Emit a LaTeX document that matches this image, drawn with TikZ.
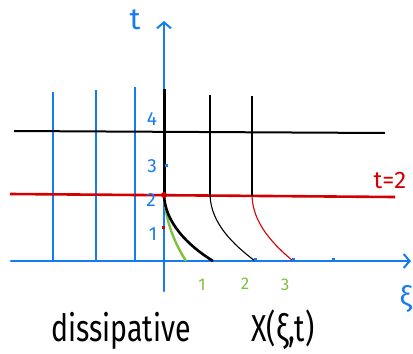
\documentclass[tikz,border=0pt]{standalone}
\usepackage{fontspec}
\usepackage{graphicx}
\setmainfont{Fira Sans}
\usetikzlibrary{arrows.meta}
\definecolor{axblue}{RGB}{22,122,240}
\definecolor{hred}{RGB}{210,0,0}
\definecolor{hgreen}{RGB}{128,192,64}
\tikzset{
  axis/.style={axblue,line width=2.8pt,line cap=round,-{Straight Barb[length=6pt,width=14pt,line width=2pt]}},
  bluev/.style={axblue,line width=2.8pt},
  blackh/.style={black,line width=2pt},
  thickblack/.style={black,line width=3pt},
  thinblack/.style={black,line width=2.4pt},
  curvethin/.style={line width=1.1pt},
  tlab/.style={axblue,font=\fontsize{19}{19}\selectfont},
  glab/.style={hgreen,font=\fontsize{17}{17}\selectfont},
  tickmark/.style={inner sep=0pt,minimum size=3pt,fill=axblue,rectangle},
}
\begin{document}
\begin{tikzpicture}[x=1pt,y=-1pt]
\useasboundingbox (0,0) rectangle (413,354);
% named points
\coordinate (O) at (164,261);
\coordinate (ttop) at (164,21);
\coordinate (tbot) at (164,291);
\coordinate (xl) at (11,261);
\coordinate (xr) at (411,261);
% blue verticals (left)
\coordinate (b1t) at (53,92); \coordinate (b1b) at (53,261);
\coordinate (b2t) at (96,90); \coordinate (b2b) at (96,261);
\coordinate (b3t) at (135,87); \coordinate (b3b) at (135,261);
\draw[bluev] (b1t) -- (b1b);
\draw[bluev] (b2t) -- (b2b);
\draw[bluev] (b3t) -- (b3b);
% axes
\draw[axis] (tbot) -- (ttop);
\draw[axis] (xl) -- (xr);
% black horizontal t=4
\coordinate (h4l) at (14,131); \coordinate (h4r) at (385,133);
\draw[blackh] (h4l) -- (h4r);
% red line t=2
\coordinate (r2l) at (10,194); \coordinate (r2r) at (395,197);
\draw[hred,line width=2.6pt] (r2l) -- (r2r);
% black verticals
\coordinate (k0t) at (164,89); \coordinate (k0b) at (164,195);
\coordinate (k1t) at (210,95); \coordinate (k1b) at (210,195);
\coordinate (k2t) at (252,96); \coordinate (k2b) at (252,196);
\draw[thickblack] (k0t) -- (k0b);
\draw[thinblack] (k1t) -- (k1b);
\draw[thinblack] (k2t) -- (k2b);
% curves
\coordinate (e0) at (213,261);
\coordinate (eg) at (186,261);
\coordinate (e1) at (255,261);
\coordinate (e2) at (293,261);
\draw[hgreen,line width=2.4pt] (k0b) .. controls (166,225) and (176,245) .. (eg);
\draw[black,line width=2.6pt] (k0b) .. controls (165,222) and (187,245) .. (e0);
\draw[black,curvethin] (k1b) .. controls (211,224) and (234,245) .. (e1);
\draw[hred,curvethin] (k2b) .. controls (253,224) and (274,245) .. (e2);
% red dot and small ticks
\node[circle,fill=hred,inner sep=0pt,minimum size=6pt] (dot) at (k0b) {};
\node[rectangle,fill=hred,inner sep=0pt,minimum size=3pt] (tk1) at (163,227) {};
\node[tickmark] (tk3) at (166,165) {};
\node[tickmark] (xk2) at (255,259) {};
\node[tickmark] (xk3) at (293,259) {};
\node[tickmark] (xk4) at (333,259) {};
% axis labels
\node[axblue,font=\fontsize{30}{30}\selectfont] (tl) at (135,20) {t};
\node[axblue,font=\fontsize{28}{28}\selectfont,anchor=east,inner sep=0pt] (xil) at (412,299) {ξ};
\node[hred,font=\fontsize{24}{24}\selectfont] (t2) at (390,180) {t=2};
% t tick labels
\node[tlab] (l4) at (152,119) {4};
\node[tlab] (l3) at (152,166) {3};
\node[tlab] (l2) at (151,200) {2};
\node[tlab] (l1) at (153,234) {1};
% xi tick labels
\node[glab] (g1) at (202,285) {1};
\node[glab] (g2) at (245,284) {2};
\node[glab] (g3) at (285,285) {3};
% caption
\node[font=\fontsize{30}{30}\selectfont] (cap1) at (121,331) {\scalebox{0.95}[1.25]{dissipative}};
\node[font=\fontsize{30}{30}\selectfont] (cap2) at (283,330) {\scalebox{0.95}[1.25]{X(ξ,t)}};
\end{tikzpicture}
\end{document}
